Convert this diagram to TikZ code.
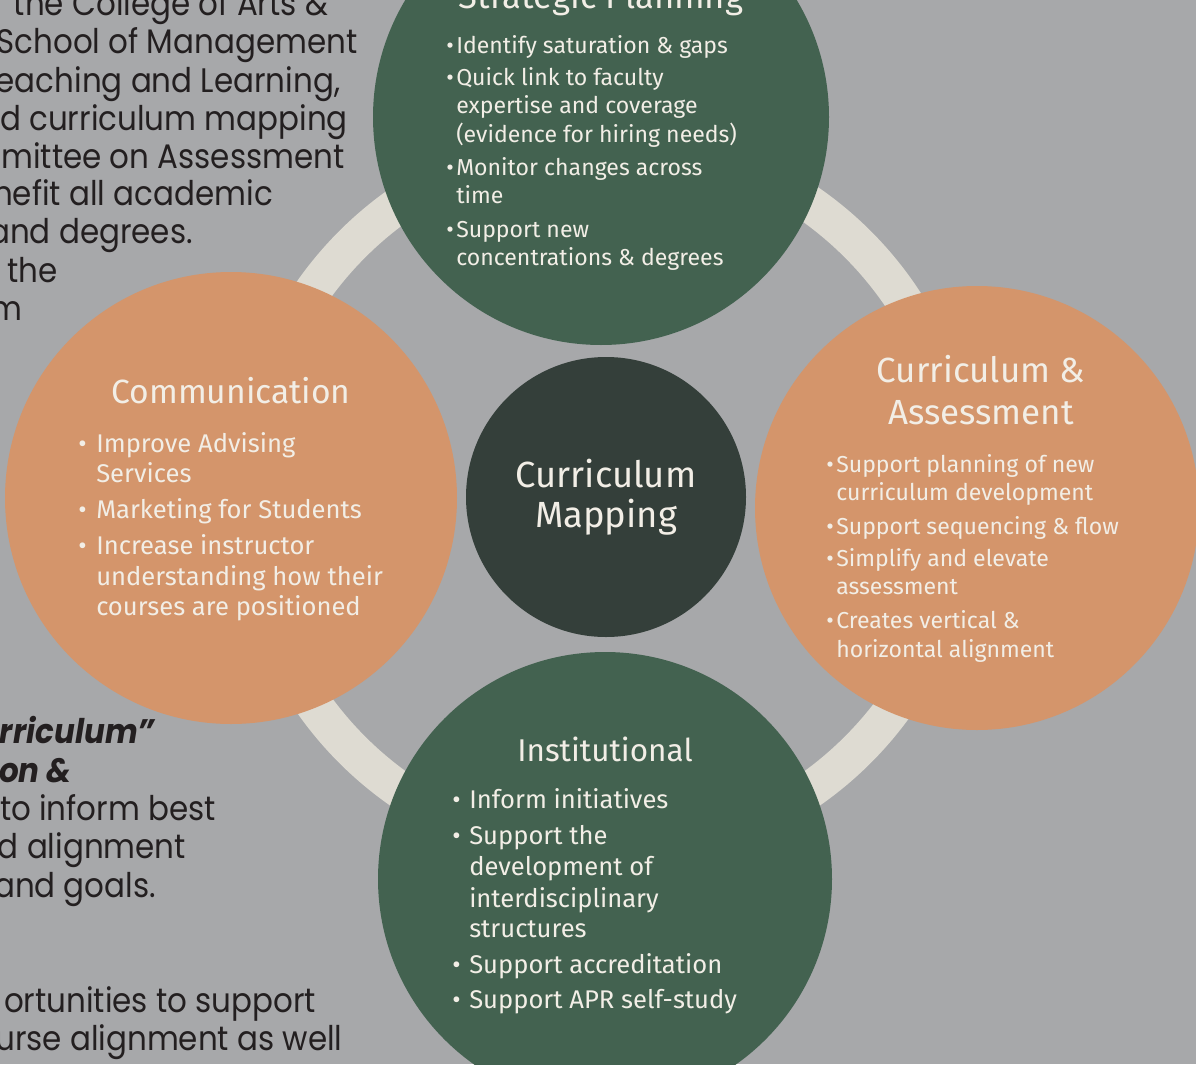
\documentclass[tikz,border=0pt]{standalone}
\usepackage{fontspec}
\setmainfont{Fira Sans}
\newfontfamily\leftfont[FakeStretch=0.91]{Poppins}
\definecolor{bg}{HTML}{A7A8AA}
\definecolor{grn}{HTML}{436250}
\definecolor{org}{HTML}{D4956B}
\definecolor{drk}{HTML}{343F3A}
\definecolor{ringc}{HTML}{DEDBD2}
\definecolor{wt}{HTML}{F2EEE6}
\definecolor{ink}{HTML}{231F20}
\tikzset{
  blob/.style={circle, inner sep=0pt, outer sep=0pt, draw=none},
  lefttxt/.style={anchor=base, inner sep=0pt, text=ink, font=\leftfont\fontsize{25.5}{25.5}\selectfont},
  leftbi/.style={lefttxt, anchor=base east, font=\leftfont\bfseries\itshape\fontsize{25.5}{25.5}\selectfont},
  ttl/.style={anchor=base, inner sep=0pt, text=wt},
  bodyS/.style={anchor=base west, inner sep=0pt, text=wt, font=\fontsize{17.3}{17.3}\selectfont},
  bodyL/.style={anchor=base west, inner sep=0pt, text=wt, font=\fontsize{19.2}{19.2}\selectfont},
}
\begin{document}
\begin{tikzpicture}[x=0.75pt,y=-0.75pt]
\useasboundingbox (0,0) rectangle (1196,1064);
\clip (0,0) rectangle (1196,1064);
\fill[bg] (0,0) rectangle (1196,1064);

% left background text (partly hidden)
\foreach \t/\xx/\yy [count=\i] in {
  {the College of Arts \&}/171/15,
  {School of Management}/177/53,
  {eaching and Learning,}/168/92,
  {d curriculum mapping}/174/130,
  {mittee on Assessment}/173/168,
  {nefit all academic}/133/205,
  {and degrees.}/91/243,
  {the}/32.5/282,
  {m}/6.5/320,
  {to inform best}/108/820,
  {d alignment}/92/858,
  {and goals.}/75/897,
  {ortunities to support}/160/1012,
  {urse alignment as well}/169/1050}
  \node[lefttxt, name=lt\i] at (\xx,\yy) {\t};
\node[leftbi] (lb1) at (155,743) {urriculum”};
\node[leftbi] (lb2) at (72,782) {on \&};

% ring
\draw[ringc, line width=27.75pt] (605,497) circle[radius=268.1pt];

% circles
\node[blob, fill=grn, minimum size=342pt] (sp) at (601,117) {};
\node[blob, fill=org, minimum size=339pt] (cm) at (231,498) {};
\node[blob, fill=org, minimum size=333pt] (ca) at (977,508) {};
\node[blob, fill=grn, minimum size=340.5pt] (in) at (605,879) {};
\node[blob, fill=drk, minimum size=210pt] (cmap) at (606,497) {};

% center
\node[ttl, font=\fontsize{27.3}{27.3}\selectfont] (c1) at (606,487) {Curriculum};
\node[ttl, font=\fontsize{27.3}{27.3}\selectfont] (c2) at (606,527) {Mapping};

% Strategic Planning
\node[ttl, font=\fontsize{26}{26}\selectfont] (spt) at (601,8) {Strategic Planning};
\foreach \y [count=\i] in {53,85,175,237}
  \node[bodyS, name=spb\i] at (446,\y) {\textbullet};
\foreach \t/\y [count=\i] in {
  {Identify saturation \& gaps}/53,
  {Quick link to faculty}/85,
  {expertise and coverage}/113,
  {(evidence for hiring needs)}/142,
  {Monitor changes across}/175,
  {time}/203,
  {Support new}/237,
  {concentrations \& degrees}/265}
  \node[bodyS, name=sp\i] at (456,\y) {\t};

% Communication
\node[ttl, font=\fontsize{25.2}{25.2}\selectfont] (cmt) at (231,403) {Communication};
\foreach \y [count=\i] in {452,518,554}
  \node[bodyL, name=cmb\i] at (78,\y) {\textbullet};
\foreach \t/\y [count=\i] in {
  {Improve Advising}/452,
  {Services}/482,
  {Marketing for Students}/518,
  {Increase instructor}/554,
  {understanding how their}/585,
  {courses are positioned}/615}
  \node[bodyL, name=cm\i] at (96,\y) {\t};

% Curriculum & Assessment
\node[ttl, font=\fontsize{26.2}{26.2}\selectfont] (cat1) at (981,382) {Curriculum \&};
\node[ttl, font=\fontsize{26.2}{26.2}\selectfont] (cat2) at (981,424) {Assessment};
\foreach \y [count=\i] in {472,534,566,628}
  \node[bodyS, name=cab\i] at (826,\y) {\textbullet};
\foreach \t/\y [count=\i] in {
  {Support planning of new}/472,
  {curriculum development}/500,
  {Support sequencing \& flow}/534,
  {Simplify and elevate}/566,
  {assessment}/594,
  {Creates vertical \&}/628,
  {horizontal alignment}/657}
  \node[bodyS, name=ca\i] at (836,\y) {\t};

% Institutional
\node[ttl, font=\fontsize{23.6}{23.6}\selectfont] (int) at (605,761) {Institutional};
\foreach \y [count=\i] in {808,844,973,1008}
  \node[bodyL, name=inb\i] at (452,\y) {\textbullet};
\foreach \t/\y [count=\i] in {
  {Inform initiatives}/808,
  {Support the}/844,
  {development of}/875,
  {interdisciplinary}/907,
  {structures}/937,
  {Support accreditation}/973,
  {Support APR self-study}/1008}
  \node[bodyL, name=in\i] at (469,\y) {\t};
\end{tikzpicture}
\end{document}
